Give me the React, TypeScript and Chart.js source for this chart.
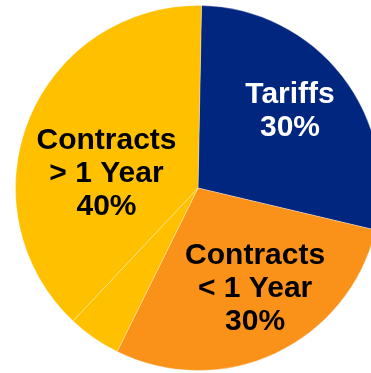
import React, { useEffect, useRef } from "react";
import { Chart, registerables } from "chart.js";

Chart.register(...registerables);

const categories = ["Tariffs", "Contracts < 1 Year", "Contracts > 1 Year (part)", "Contracts > 1 Year"];
const shares = [28.4, 28.6, 4.7, 38.3];
const sliceColors = ["#00267F", "#FA9119", "#FFC000", "#FFC000"];
const labelLines = [["Tariffs", "30%"], ["Contracts", "< 1 Year", "30%"], [], ["Contracts", "> 1 Year", "40%"]];
const labelColors = ["#FFFFFF", "#000000", "#000000", "#000000"];
// label anchor: angle nudge from slice middle (deg), radius fraction
const labelNudge = [-2, -4.4, 0, -13];
const labelRadius = [0.656, 0.634, 0, 0.508];

const labelPlugin = {
  id: "sliceLabels",
  afterDatasetsDraw(chart: any) {
    const ctx = chart.ctx;
    const meta = chart.getDatasetMeta(0);
    ctx.save();
    ctx.font = "bold 30px 'Liberation Sans', Arial, sans-serif";
    ctx.textAlign = "center";
    ctx.textBaseline = "middle";
    const lineH = 33;
    meta.data.forEach((arc: any, i: number) => {
      const lines = labelLines[i];
      if (!lines || !lines.length) return;
      const p = arc.getProps(["x", "y", "startAngle", "endAngle", "outerRadius"], true);
      const mid = (p.startAngle + p.endAngle) / 2 + (labelNudge[i] * Math.PI) / 180;
      const r = p.outerRadius * labelRadius[i];
      const cx = p.x + Math.cos(mid) * r;
      const cy = p.y + Math.sin(mid) * r;
      ctx.fillStyle = labelColors[i];
      const top = cy - ((lines.length - 1) * lineH) / 2;
      lines.forEach((t: string, k: number) => ctx.fillText(t, cx, top + k * lineH));
    });
    ctx.restore();
  },
};

export default function App() {
  const ref = useRef<HTMLCanvasElement>(null);
  useEffect(() => {
    if (!ref.current) return;
    const chart = new Chart(ref.current, {
      type: "pie",
      data: {
        labels: categories,
        datasets: [
          {
            data: shares,
            backgroundColor: sliceColors,
            borderColor: "rgba(255,255,255,0.3)",
            borderWidth: 1,
          },
        ],
      },
      options: {
        responsive: false,
        maintainAspectRatio: false,
        animation: false,
        rotation: 1.1,
        layout: { padding: 0 },
        plugins: { legend: { display: false }, tooltip: { enabled: false } },
      },
      plugins: [labelPlugin],
    });
    return () => chart.destroy();
  }, []);
  return (
    <div style={{ position: "absolute", left: 0, top: 0, width: 371, height: 373, overflow: "hidden", background: "#fff" }}>
      <canvas ref={ref} width={366} height={366} style={{ position: "absolute", left: 15, top: 5, width: 366, height: 366 }} />
    </div>
  );
}
